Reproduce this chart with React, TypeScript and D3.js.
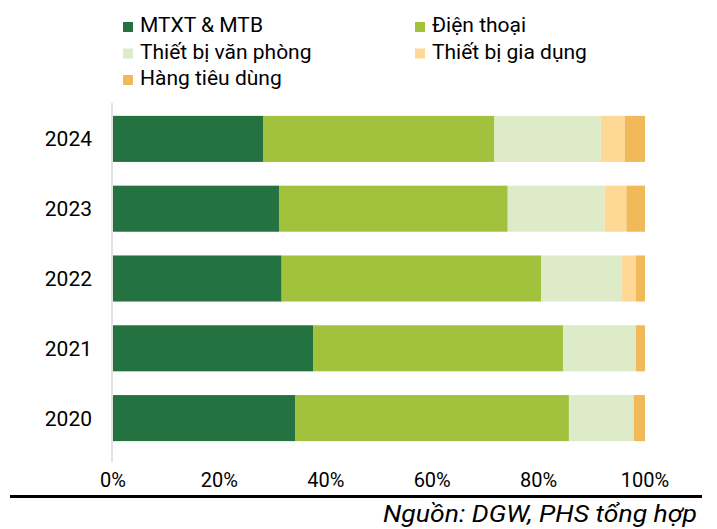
import React from "react";
import * as d3 from "d3";

const years = ["2024", "2023", "2022", "2021", "2020"];
const seriesNames = ["MTXT & MTB", "Điện thoại", "Thiết bị văn phòng", "Thiết bị gia dụng", "Hàng tiêu dùng"];
const mtxt = [28.2, 31.2, 31.7, 37.6, 34.3];
const dienThoai = [43.5, 43.0, 48.8, 47.0, 51.4];
const vanPhong = [20.0, 18.2, 15.2, 13.7, 12.2];
const giaDung = [4.5, 4.1, 2.6, 0, 0];
const tieuDung = [3.8, 3.5, 1.7, 1.7, 2.1];
const colors = ["#237240", "#A2C23D", "#DDEBC8", "#FDD995", "#F2B95A"];
const ticks = [0, 20, 40, 60, 80, 100];

export default function App() {
  const W = 717, H = 529;
  const font = "Roboto, 'Noto Sans', sans-serif";
  const x = d3.scaleLinear().domain([0, 100]).range([113, 645]);
  const y = d3.scaleBand().domain(years).range([104, 453]).paddingInner(0.34).paddingOuter(0.17);
  const rows = years.map((yr, i) => ({
    year: yr,
    s0: mtxt[i], s1: dienThoai[i], s2: vanPhong[i], s3: giaDung[i], s4: tieuDung[i],
  }));
  const stack = d3.stack<any>().keys(["s0", "s1", "s2", "s3", "s4"]);
  const layers = stack(rows);
  // [square left, text left, baseline]
  const legendPos = [
    [123, 140, 32], [415, 432, 32], [123, 140, 58.5], [415, 432, 58.5], [123, 140, 85],
  ];
  return (
    <svg width={W} height={H} style={{ position: "absolute", left: 0, top: 0, background: "#fff" }}>
      {layers.map((layer, li) => (
        <g key={li} fill={colors[li]}>
          {layer.map((d, i) => (
            <rect key={i} x={x(d[0])} y={y(years[i])} width={Math.max(0, x(d[1]) - x(d[0]))} height={y.bandwidth()} />
          ))}
        </g>
      ))}
      <line x1={112} x2={112} y1={103} y2={462} stroke="#d9d9d9" strokeWidth={1.5} />
      {years.map((yr) => (
        <text key={yr} x={92} y={(y(yr) as number) + y.bandwidth() / 2 + 7.5} textAnchor="end" fontFamily={font} fontSize={21} fill="#000">{yr}</text>
      ))}
      {ticks.map((t) => (
        <text key={t} x={x(t)} y={487} textAnchor="middle" fontFamily={font} fontSize={20} fill="#000">{t}%</text>
      ))}
      {seriesNames.map((n, i) => (
        <g key={n}>
          <rect x={legendPos[i][0]} y={legendPos[i][2] - 10} width={10} height={10} fill={colors[i]} />
          <text x={legendPos[i][1]} y={legendPos[i][2]} fontFamily={font} fontSize={21} fill="#000">{n}</text>
        </g>
      ))}
      <line x1={10} x2={702} y1={496.5} y2={496.5} stroke="#000" strokeWidth={3} />
      <text x={383} y={521.5} textLength={314} lengthAdjust="spacingAndGlyphs" fontFamily={font} fontStyle="italic" fontSize={24} fill="#000">Nguồn: DGW, PHS tổng hợp</text>
    </svg>
  );
}
